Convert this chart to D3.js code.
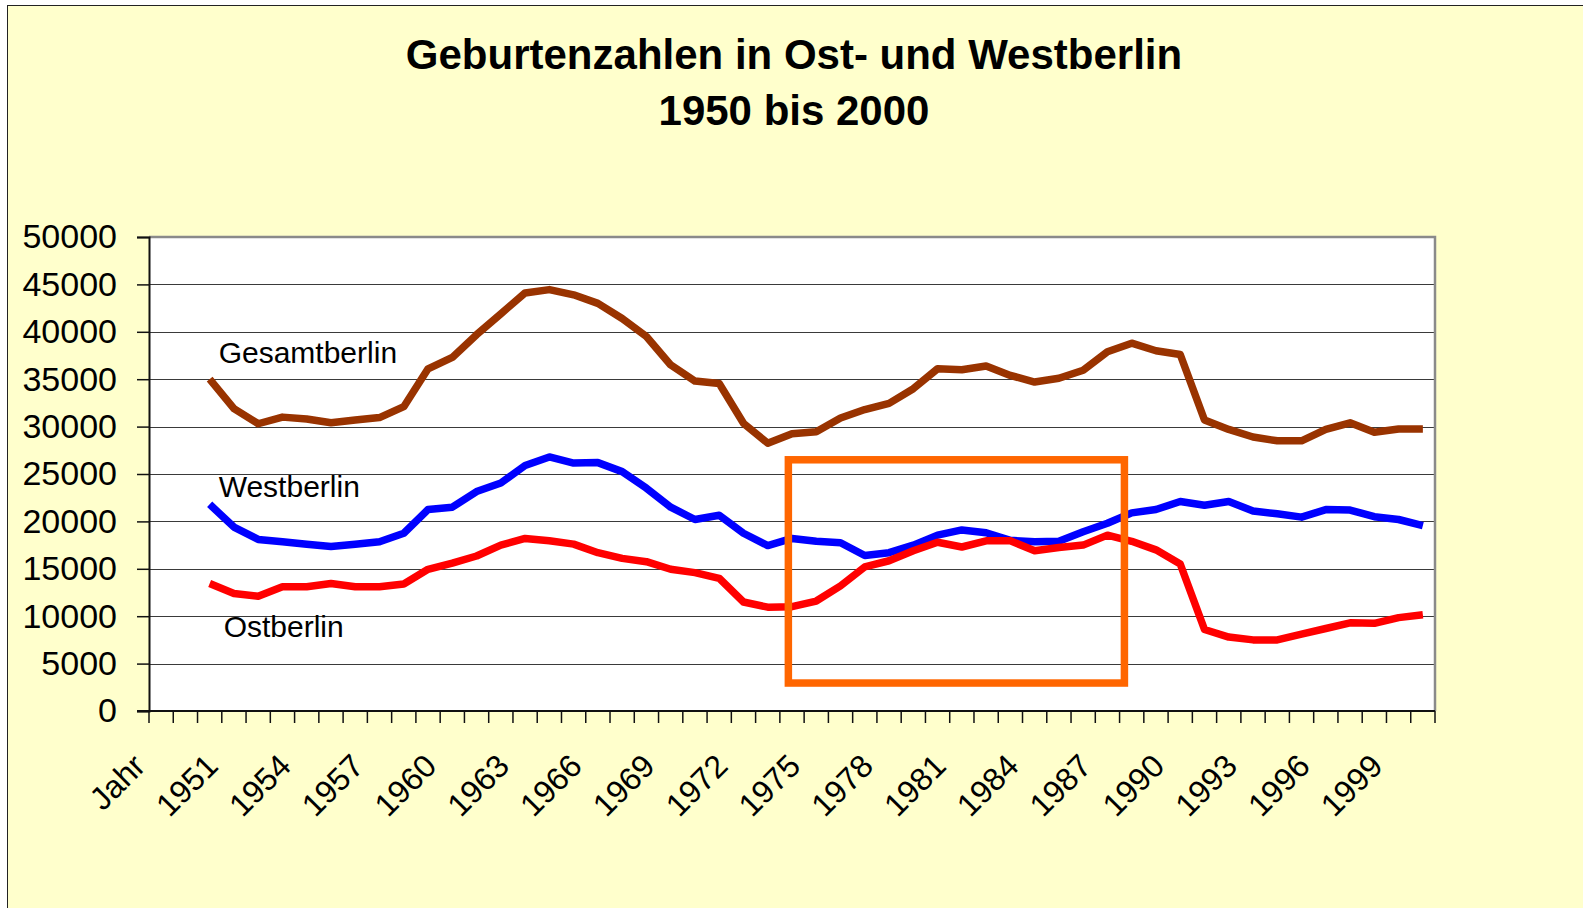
<!DOCTYPE html>
<html>
<head>
<meta charset="utf-8">
<script src="https://cdn.jsdelivr.net/npm/d3@7"></script>
<style>
  html, body { margin: 0; padding: 0; background: #fff; }
  svg { display: block; font-family: "Liberation Sans", Arial, sans-serif; }
</style>
</head>
<body>
<div id="chart"></div>
<script>
// Geburtenzahlen in Ost- und Westberlin, 1950 bis 2000
const years = d3.range(1950, 2001)
const categories = ["Jahr", ""].concat(years.map(String))

const gesamt = [
  35000, 31900, 30300, 31000, 30800, 30400, 30700, 30950, 32100, 36100,
  37300, 39700, 41900, 44100, 44450, 43900, 43000, 41400, 39500, 36500,
  34800, 34550, 30350, 28250, 29250, 29450, 30900, 31800, 32450, 34000,
  36100, 36000, 36400, 35400, 34700, 35100, 35950, 37900, 38800, 38000,
  37600, 30700, 29700, 28900, 28500, 28500, 29700, 30400, 29400, 29750,
  29750
]
const west = [
  21800, 19400, 18100, 17850, 17600, 17350, 17600, 17850, 18750, 21250,
  21500, 23150, 24050, 25900, 26800, 26150, 26200, 25250, 23500, 21500,
  20200, 20650, 18750, 17450, 18200, 17900, 17750, 16400, 16700, 17500,
  18550, 19100, 18800, 18000, 17850, 17900, 18900, 19800, 20900, 21250,
  22100, 21700, 22100, 21100, 20800, 20450, 21250, 21200, 20500, 20200,
  19550
]
const ost = [
  13450, 12400, 12100, 13100, 13100, 13450, 13100, 13100, 13400, 14950,
  15600, 16350, 17500, 18200, 17950, 17600, 16700, 16100, 15750, 14950,
  14600, 14000, 11500, 10950, 11000, 11600, 13200, 15200, 15850, 16900,
  17800, 17300, 17950, 17950, 16900, 17250, 17500, 18550, 17900, 17000,
  15500, 8600, 7800, 7500, 7500, 8100, 8700, 9300, 9250, 9850,
  10150
]
const yTicks = [0, 5000, 10000, 15000, 20000, 25000, 30000, 35000, 40000, 45000, 50000]

const series = [
  {name: "Gesamtberlin", values: gesamt, color: "#993300", labelValue: 36700, dx: 9},
  {name: "Westberlin", values: west, color: "#0000ff", labelValue: 22600, dx: 9},
  {name: "Ostberlin", values: ost, color: "#ff0000", labelValue: 7850, dx: 14},
]

// highlighted period (orange box)
const highlight = {years: [1973.85, 1987.7], values: [2950, 26500]}

const width = 1583, height = 908
const plot = {left: 149, right: 1435, top: 237, bottom: 711}

const svg = d3.select("#chart").append("svg")
  .attr("width", width)
  .attr("height", height)

svg.append("rect")
  .attr("x", 7.5).attr("y", 5.5)
  .attr("width", 1620).attr("height", 940)
  .attr("fill", "#ffffcc")
  .attr("stroke", "#222")
  .attr("stroke-width", 1)

const title = svg.append("text")
  .attr("text-anchor", "middle")
  .attr("font-size", 42)
  .attr("font-weight", "bold")
  .attr("fill", "#000")
title.append("tspan").attr("x", 794).attr("y", 69).text("Geburtenzahlen in Ost- und Westberlin")
title.append("tspan").attr("x", 794).attr("y", 125).text("1950 bis 2000")

const x = d3.scaleBand().domain(categories).range([plot.left, plot.right]).padding(0)
const bw = x.bandwidth()
const xYear = d3.scaleLinear()
  .domain([years[0], years[years.length - 1]])
  .range([x(String(years[0])) + bw / 2, x(String(years[years.length - 1])) + bw / 2])
const y = d3.scaleLinear().domain([0, 50000]).range([plot.bottom, plot.top])

svg.append("rect")
  .attr("x", plot.left).attr("y", plot.top)
  .attr("width", plot.right - plot.left).attr("height", plot.bottom - plot.top)
  .attr("fill", "#fff")

svg.append("g")
  .selectAll("line")
  .data(yTicks.filter(d => d > 0 && d < 50000))
  .join("line")
    .attr("x1", plot.left).attr("x2", plot.right)
    .attr("y1", d => Math.round(y(d)) + 0.5).attr("y2", d => Math.round(y(d)) + 0.5)
    .attr("stroke", "#3a3a3a")
    .attr("stroke-width", 1.2)

// top and right border (grey)
svg.append("path")
  .attr("d", `M${plot.left},${plot.top}H${plot.right}V${plot.bottom}`)
  .attr("fill", "none")
  .attr("stroke", "#8a8a8a")
  .attr("stroke-width", 2.5)

// y axis
const yAxis = svg.append("g")
  .attr("transform", `translate(${plot.left},0)`)
  .call(d3.axisLeft(y).tickValues(yTicks).tickSize(12).tickPadding(20).tickFormat(d => String(d)))
yAxis.select(".domain").attr("stroke", "#111").attr("stroke-width", 2)
yAxis.selectAll(".tick line").attr("stroke", "#111").attr("stroke-width", 1.5)
yAxis.selectAll(".tick text")
  .attr("font-size", 34)
  .attr("font-family", "Liberation Sans, Arial, sans-serif")
  .attr("fill", "#000")

// x axis: ticks on category boundaries
const xAxis = svg.append("g")
xAxis.append("line")
  .attr("x1", plot.left - 12).attr("x2", plot.right)
  .attr("y1", plot.bottom).attr("y2", plot.bottom)
  .attr("stroke", "#111").attr("stroke-width", 2)
xAxis.selectAll("line.tick")
  .data(categories.map(c => x(c)).concat([plot.right]))
  .join("line")
    .attr("class", "tick")
    .attr("x1", d => d).attr("x2", d => d)
    .attr("y1", plot.bottom).attr("y2", plot.bottom + 12)
    .attr("stroke", "#111").attr("stroke-width", 1.5)
xAxis.selectAll("text")
  .data(categories.filter((c, i) => i % 3 === 0))
  .join("text")
    .attr("text-anchor", "end")
    .attr("font-size", 32)
    .attr("fill", "#000")
    .attr("transform", c => `translate(${x(c) + bw / 2 - 14},${plot.bottom + 57}) rotate(-45)`)
    .text(c => c)

// series lines
const line = d3.line()
  .x((d, i) => xYear(years[i]))
  .y(d => y(d))

svg.append("g")
  .selectAll("path")
  .data(series)
  .join("path")
    .attr("d", d => line(d.values))
    .attr("fill", "none")
    .attr("stroke", d => d.color)
    .attr("stroke-width", 7.5)
    .attr("stroke-linejoin", "round")

svg.append("g")
  .selectAll("text")
  .data(series)
  .join("text")
    .attr("x", d => xYear(years[0]) + d.dx)
    .attr("y", d => y(d.labelValue))
    .attr("font-size", 30)
    .attr("fill", "#000")
    .text(d => d.name)

// orange highlight box
svg.append("rect")
  .attr("x", xYear(highlight.years[0]))
  .attr("y", y(highlight.values[1]))
  .attr("width", xYear(highlight.years[1]) - xYear(highlight.years[0]))
  .attr("height", y(highlight.values[0]) - y(highlight.values[1]))
  .attr("fill", "none")
  .attr("stroke", "#ff6600")
  .attr("stroke-width", 7.5)
</script>
</body>
</html>
